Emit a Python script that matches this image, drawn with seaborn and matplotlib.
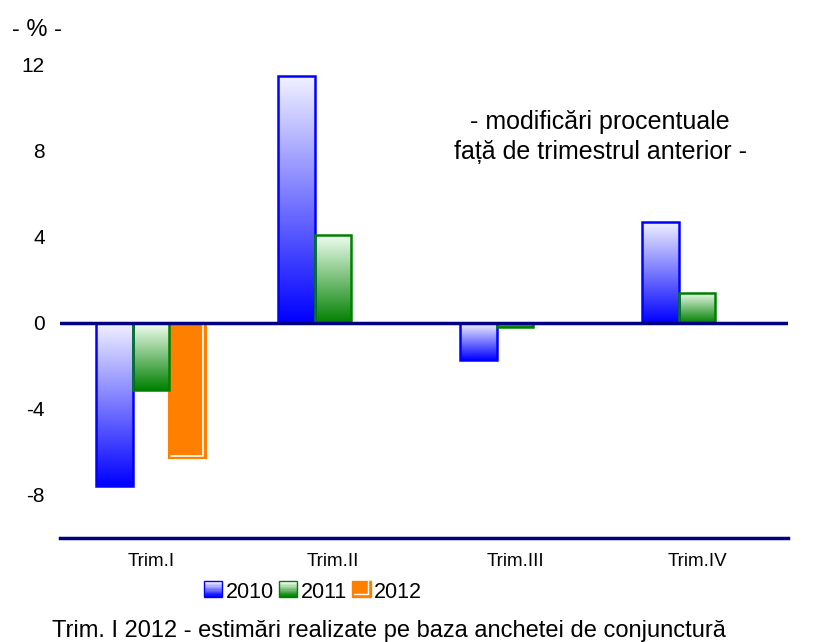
import numpy as np
import pandas as pd
import matplotlib
matplotlib.use("Agg")
import matplotlib.pyplot as plt
import seaborn as sns
from matplotlib.patches import Rectangle
from matplotlib.colors import to_rgb

quarters = ["Trim.I", "Trim.II", "Trim.III", "Trim.IV"]
years = ["2010", "2011", "2012"]
v2010 = [-7.6, 11.5, -1.7, 4.7]
v2011 = [-3.1, 4.1, -0.2, 1.4]
v2012 = [-6.3]
yticks = [-8, -4, 0, 4, 8, 12]

rows = []
for yr, vals in zip(years, [v2010, v2011, v2012]):
    for q, v in zip(quarters, vals):
        rows.append({"trim": q, "an": yr, "val": v})
df = pd.DataFrame(rows)

sns.set_style("white")
plt.rcParams["font.family"] = ["Liberation Sans", "DejaVu Sans"]
plt.rcParams["text.color"] = "black"
plt.rcParams["xtick.color"] = "black"
plt.rcParams["ytick.color"] = "black"
plt.rcParams["xtick.labelcolor"] = "black"
plt.rcParams["ytick.labelcolor"] = "black"

fig = plt.figure(figsize=(8.3, 6.42), dpi=100)
ax = fig.add_axes([60/830, 1-538/642, (788-60)/830, (538-43.5)/642])

colors = {"2010": "#0000ff", "2011": "#008000", "2012": "#ff8000"}
sns.barplot(data=df, x="trim", y="val", hue="an", hue_order=years,
            order=quarters, palette=colors, width=0.6, errorbar=None,
            legend=False, ax=ax)

def grad_img(col, top):
    c = np.array(to_rgb(col))
    t = np.array(top)
    s = np.linspace(0, 1, 256)[:, None]
    arr = t * (1 - s) + c * s
    return arr[:, None, :]

tops = {"2010": (0.95, 0.95, 1.0), "2011": (0.95, 1.0, 0.95)}
for cont, yr in zip(ax.containers, years):
    for p in cont.patches:
        x0, y0 = p.get_x(), p.get_y()
        w, h = p.get_width(), p.get_height()
        ylo, yhi = min(y0, y0 + h), max(y0, y0 + h)
        if yr in ("2010", "2011"):
            p.set_facecolor("none")
            p.set_edgecolor(colors[yr])
            p.set_linewidth(1.8)
            p.set_zorder(3)
            im = ax.imshow(grad_img(colors[yr], tops[yr]), extent=(x0, x0 + w, ylo, yhi),
                           origin="upper", aspect="auto", zorder=2, interpolation="bilinear")
            im.set_clip_path(p)
        else:
            p.set_facecolor(colors[yr])
            p.set_edgecolor(colors[yr])
            p.set_linewidth(1.5)
            p.set_zorder(2)
            dx = w * 0.06
            dy = 0.1
            ax.plot([x0 + w - dx, x0 + w - dx, x0 + dx],
                    [yhi, ylo + dy, ylo + dy], color="white", lw=1.2, zorder=3)

ax.set_xlim(-0.5, 3.5)
ax.set_ylim(-10, 13)

ax.axhline(0, color="#000080", lw=2.5, zorder=4)
for s in ["left", "right", "top"]:
    ax.spines[s].set_visible(False)
ax.spines["bottom"].set_color("#000080")
ax.spines["bottom"].set_linewidth(2.5)

ax.set_yticks(yticks)
ax.set_yticklabels([str(t) for t in yticks], fontsize=15, color="black")
ax.tick_params(axis="y", length=0, pad=11)
ax.tick_params(axis="x", length=0, pad=11, labelsize=13.5, labelcolor="black")
ax.set_xlabel("")
ax.set_ylabel("")

fig.text(12/830, 1-30/642, "- % -", fontsize=17, va="center", ha="left", color="black")
fig.text(600/830, 1-137/642, "- modificări procentuale\nfață de trimestrul anterior -",
         fontsize=18, ha="center", va="center", multialignment="center",
         linespacing=1.3, color="black")


class GradHandler:
    def __init__(self, col, top, orange=False):
        self.col, self.top, self.orange = col, top, orange

    def legend_artist(self, legend, orig_handle, fontsize, handlebox):
        x0, y0 = handlebox.xdescent, handlebox.ydescent
        w, h = handlebox.width, handlebox.height
        if self.orange:
            handlebox.add_artist(Rectangle((x0, y0), w, h, facecolor=self.col,
                                           edgecolor=self.col, lw=1))
            handlebox.add_artist(matplotlib.lines.Line2D(
                [x0 + w - 2, x0 + w - 2, x0 + 1], [y0 + h, y0 + 2, y0 + 2],
                color="white", lw=1))
            return handlebox
        n = 12
        c = np.array(to_rgb(self.col))
        t = np.array(self.top)
        for i in range(n):
            s = i / (n - 1)
            fc = t * (1 - s) + c * s
            handlebox.add_artist(Rectangle((x0, y0 + h - (i + 1) * h / n), w, h / n,
                                           facecolor=fc, edgecolor="none"))
        handlebox.add_artist(Rectangle((x0, y0), w, h, facecolor="none",
                                       edgecolor=self.col, lw=1))
        return handlebox


h2010 = Rectangle((0, 0), 1, 1)
h2011 = Rectangle((0, 0), 1, 1)
h2012 = Rectangle((0, 0), 1, 1)
leg = fig.legend([h2010, h2011, h2012], years, loc="center",
                 bbox_to_anchor=(313/830, 1-592/642), ncol=3, frameon=False,
                 fontsize=15.5, handlelength=0.85, handleheight=0.75, handletextpad=0.15,
                 columnspacing=0.25, borderpad=0,
                 handler_map={h2010: GradHandler(colors["2010"], tops["2010"]),
                              h2011: GradHandler(colors["2011"], tops["2011"]),
                              h2012: GradHandler(colors["2012"], (1, 1, 1), orange=True)})
for t in leg.get_texts():
    t.set_color("black")

fig.text(52/830, 1-631/642, "Trim. I 2012 - estimări realizate pe baza anchetei de conjunctură",
         fontsize=17, ha="left", va="center", color="black")

fig.savefig("out.png", dpi=100)
